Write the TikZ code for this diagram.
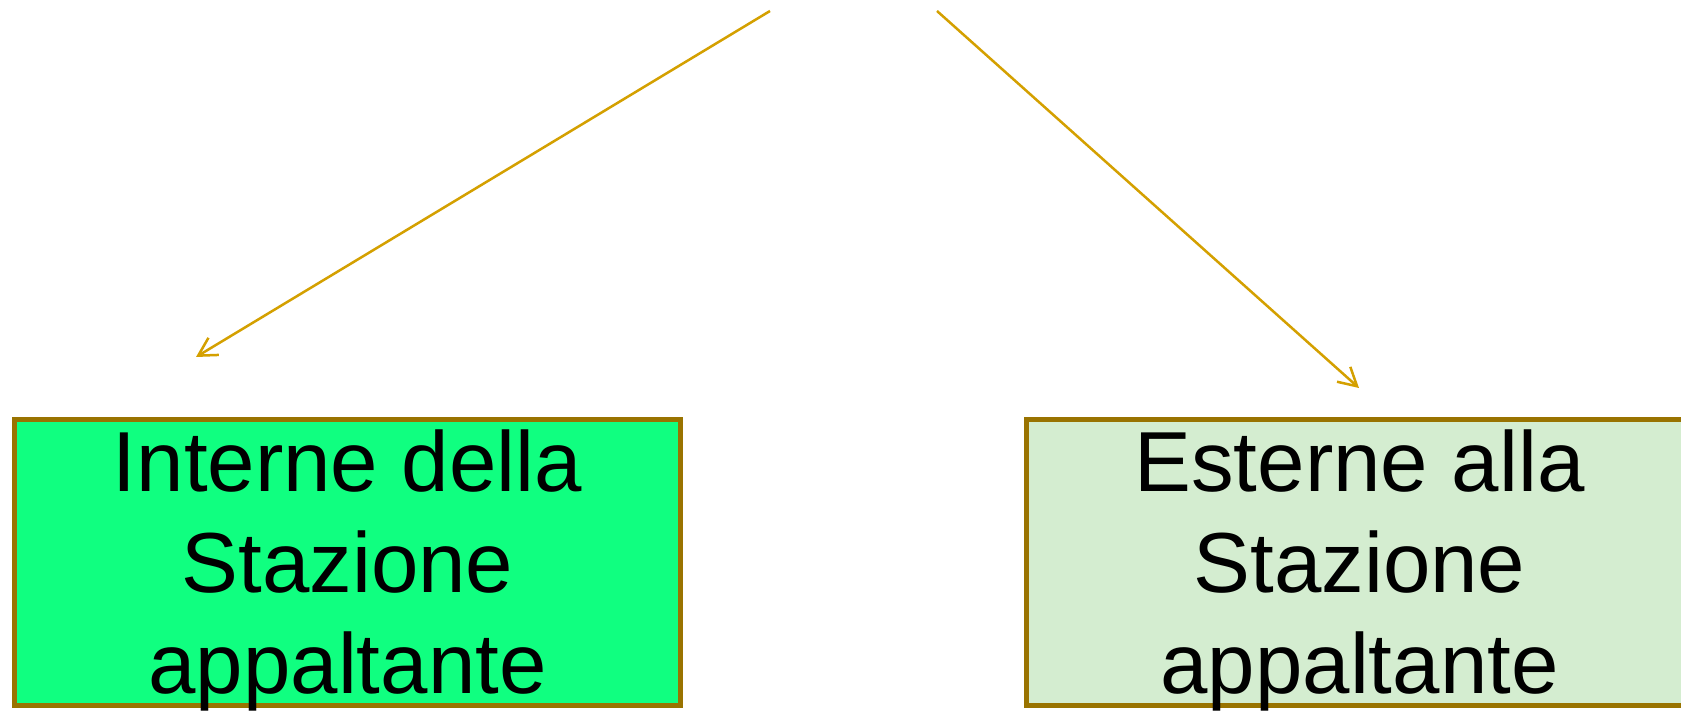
\documentclass[tikz,border=0pt]{standalone}
\usepackage{fontspec}
\setmainfont{Liberation Sans}
\usepackage{xcolor}
\usetikzlibrary{positioning, arrows.meta}

\definecolor{arrgold}{RGB}{212,160,0}
\definecolor{boxedge}{RGB}{153,115,0}
\definecolor{fillin}{RGB}{16,255,128}
\definecolor{fillout}{RGB}{212,237,208}

\tikzset{
	box/.style={draw=boxedge, line width=0.1cm, rectangle, inner sep=0pt,
		minimum width=13.32cm, minimum height=5.72cm},
	lbl/.style={align=center, inner sep=0pt, font=\fontsize{48.5}{57.5}\selectfont},
	arr/.style={draw=arrgold, line width=0.05cm,
		-{Straight Barb[length=0.36cm, width=0.4cm, line width=0.05cm]}}
}

\begin{document}
\begin{tikzpicture}[-, node distance=1cm]
		\useasboundingbox[fill=white] (0,0) rectangle (33.62,14.24);
		
		\node[box, fill=fillin] (boxL) at (6.95,2.99) {};
		\node[box, fill=fillout] (boxR) at (27.19,2.99) {};
		\node[lbl, below=0.25cm of boxL.north] (txtL) {Interne della\\Stazione\\appaltante};
		\node[lbl, below=0.25cm of boxR.north] (txtR) {Esterne alla\\Stazione\\appaltante};
		
		\coordinate (topL) at (15.40,14.02);
		\coordinate (tipL) at (3.92,7.10);
		\coordinate (topR) at (18.74,14.02);
		\coordinate (tipR) at (27.18,6.48);
		
		\draw (topL) edge[arr] (tipL) ;
		\draw (topR) edge[arr] (tipR) ;
		
	\end{tikzpicture}
\end{document}
